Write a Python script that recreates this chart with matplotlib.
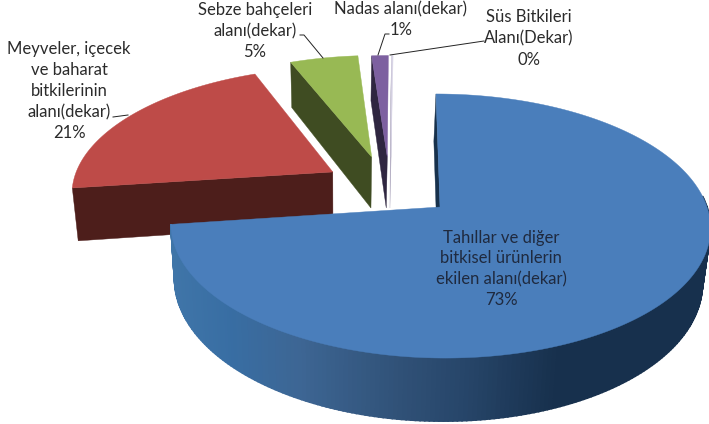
import numpy as np
import matplotlib
matplotlib.use('Agg')
import matplotlib.pyplot as plt

plt.rcParams['font.family'] = ['Lato', 'DejaVu Sans']

# slices, clockwise from 12 o'clock
names = ['Tahıllar ve diğer\nbitkisel ürünlerin\nekilen alanı(dekar)',
         'Meyveler, içecek\nve baharat\nbitkilerinin\nalanı(dekar)',
         'Sebze bahçeleri\nalanı(dekar)',
         'Nadas alanı(dekar)',
         'Süs Bitkileri\nAlanı(Dekar)']
values = [72.9, 20.9, 4.9, 1.2, 0.1]
percent_labels = ['73%', '21%', '5%', '1%', '0%']

top_colors = ['#4a7ebb', '#be4b48', '#98b954', '#7d60a0', '#d8d4e6']
wall_colors = ['#17314c', '#4d1e1b', '#3f4c22', '#2f2640', '#b0aac0']

# how far each slice is pulled out (plot units)
offsets = [(0, 0), (-0.413, 0.282), (-0.264, 0.4095), (-0.202, 0.4095), (-0.187, 0.4095)]

# shading of the round wall of the big slice, by screen x
wall_x = [170, 230, 300, 400, 470, 560, 710]
wall_rgb = [(0.25, 0.46, 0.66), (0.22, 0.43, 0.64), (0.24, 0.40, 0.58),
            (0.19, 0.32, 0.47), (0.15, 0.27, 0.41), (0.09, 0.19, 0.30), (0.09, 0.19, 0.30)]

# perspective of the pie
cx, cy = 440, 207
rx, ry = 267, 129.3
skew = -4.6
persp = 0.144
depth = 54


def project(x, y, z=0):
    x, y = np.asarray(x, float), np.asarray(y, float)
    s = 1 / (1 + persp * y)
    px = cx + (rx * x + skew * y) * s
    py = cy - ry * y * s + z * depth * s
    px = px + z * 0.022 * (340 - px)
    return px, py


def rim(phi, off):
    return off[0] + np.sin(phi), off[1] + np.cos(phi)


def draw_slice(ax, a0, a1, off, top, wall, zo, round_wall=False):
    phi = np.linspace(a0, a1, 300)
    rx_, ry_ = rim(phi, off)

    # cut face on the start side
    ex = [rx_[0], off[0]]
    ey = [ry_[0], off[1]]
    tx, ty = project(ex, ey, 0)
    bx, by = project(ex, ey, 1)
    ax.fill(np.r_[tx, bx[::-1]], np.r_[ty, by[::-1]], color=wall, lw=0.3, zorder=zo)

    if round_wall:
        tx, ty = project(rx_, ry_, 0)
        bx, by = project(rx_, ry_, 1)
        for i in range(len(phi) - 1):
            if np.degrees(phi[i]) < 85:
                continue
            c = [np.interp(tx[i], wall_x, [r[k] for r in wall_rgb]) for k in range(3)]
            ax.fill([tx[i], tx[i + 1], bx[i + 1], bx[i]],
                    [ty[i], ty[i + 1], by[i + 1], by[i]],
                    color=c, lw=1.2, zorder=zo)

    # top face
    ax.fill(*project(np.r_[off[0], rx_], np.r_[off[1], ry_], 0), color=top, lw=0.3, zorder=zo + 0.5)


fig = plt.figure(figsize=(7.09, 4.24), dpi=100)
ax = fig.add_axes([0, 0, 1, 1])
ax.set_xlim(0, 709)
ax.set_ylim(424, 0)
ax.axis('off')

edges = np.radians(np.r_[0, np.cumsum(values)] / np.sum(values) * 360)

for i in [1, 2, 3, 4]:
    draw_slice(ax, edges[i], edges[i + 1], offsets[i], top_colors[i], wall_colors[i], i)
draw_slice(ax, edges[0], edges[1], offsets[0], top_colors[0], wall_colors[0], 6, round_wall=True)

# leader lines
leader_x = [[113, 128], [300, 304, 323], [389, 385, 378], [390, 484]]
leader_y = [[117, 115], [35, 35, 58], [34, 34, 55], [55, 41]]
for lx, ly in zip(leader_x, leader_y):
    ax.plot(lx, ly, color='#222222', lw=0.7, zorder=8)

# labels
label_x = [501, 69, 255, 401, 529]
label_y = [269, 91, 31, 19.5, 38.5]
label_color = ['#1f2a3f', '#2b2b2b', '#2b2b2b', '#2b2b2b', '#2b2b2b']
for i in range(5):
    ax.text(label_x[i], label_y[i], names[i] + '\n' + percent_labels[i], ha='center', va='center',
            fontsize=12, color=label_color[i], linespacing=1.38, zorder=9)

fig.savefig('out.png', dpi=100, facecolor='white')
